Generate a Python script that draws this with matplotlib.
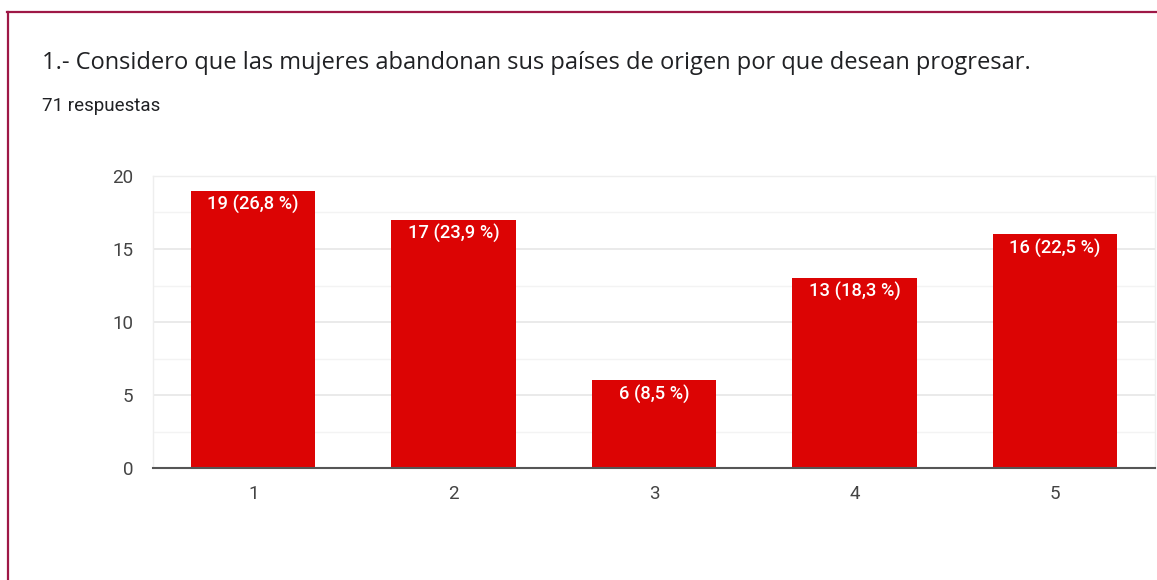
import matplotlib.pyplot as plt
from matplotlib.lines import Line2D

categories = ["1", "2", "3", "4", "5"]
counts = [19, 17, 6, 13, 16]
pct_labels = ["19 (26,8 %)", "17 (23,9 %)", "6 (8,5 %)", "13 (18,3 %)", "16 (22,5 %)"]
y_ticks = [0, 5, 10, 15, 20]

plt.rcParams["font.family"] = ["Roboto", "DejaVu Sans"]

fig = plt.figure(figsize=(11.57, 5.8), dpi=100)
fig.patch.set_facecolor("white")

# maroon frame on the left and top
fig.add_artist(Line2D([8 / 1157, 8 / 1157], [0, 1 - 12 / 580], color="#9e1846", lw=1.6,
                      transform=fig.transFigure))
fig.add_artist(Line2D([7 / 1157, 1], [1 - 12 / 580, 1 - 12 / 580], color="#9e1846", lw=1.6,
                      transform=fig.transFigure))

fig.text(42 / 1157, 1 - 63 / 580, "1.- Considero que las mujeres abandonan sus países de origen por que desean progresar.",
         fontsize=17.0, color="#202124", va="center", ha="left", family=["Open Sans", "DejaVu Sans"])
fig.text(42 / 1157, 1 - 106 / 580, "71 respuestas", fontsize=13.5, color="#202124", va="center", ha="left")

ax = fig.add_axes([153 / 1157, 112 / 580, 1002 / 1157, 292 / 580])
x = list(range(len(categories)))
bars = ax.bar(x, counts, width=0.62, color="#dc0404", zorder=3)

for b, lab in zip(bars, pct_labels):
    ax.annotate(lab, (b.get_x() + b.get_width() / 2, b.get_height()), xytext=(0, -3),
                textcoords="offset points", ha="center", va="top", color="white",
                fontsize=13.2, fontweight="medium", zorder=4)

ax.set_xlim(-0.5, len(categories) - 0.5)
ax.set_ylim(0, 20)
ax.set_xticks(x)
ax.set_xticklabels(categories)
ax.set_yticks(y_ticks)
ax.set_yticks([2.5, 7.5, 12.5, 17.5], minor=True)
ax.grid(axis="y", which="major", color="#e6e6e6", lw=1.2, zorder=0)
ax.grid(axis="y", which="minor", color="#f3f3f3", lw=1.0, zorder=0)
ax.tick_params(axis="both", which="both", length=0, colors="#444444", labelsize=13.5)
ax.tick_params(axis="x", pad=12)
ax.tick_params(axis="y", pad=14)
for s in ["top", "right", "left"]:
    ax.spines[s].set_color("#eeeeee")
    ax.spines[s].set_linewidth(1.0)
ax.spines["bottom"].set_color("#555555")
ax.spines["bottom"].set_linewidth(1.5)
ax.spines["bottom"].set_zorder(5)

fig.savefig("out.png", dpi=100)
